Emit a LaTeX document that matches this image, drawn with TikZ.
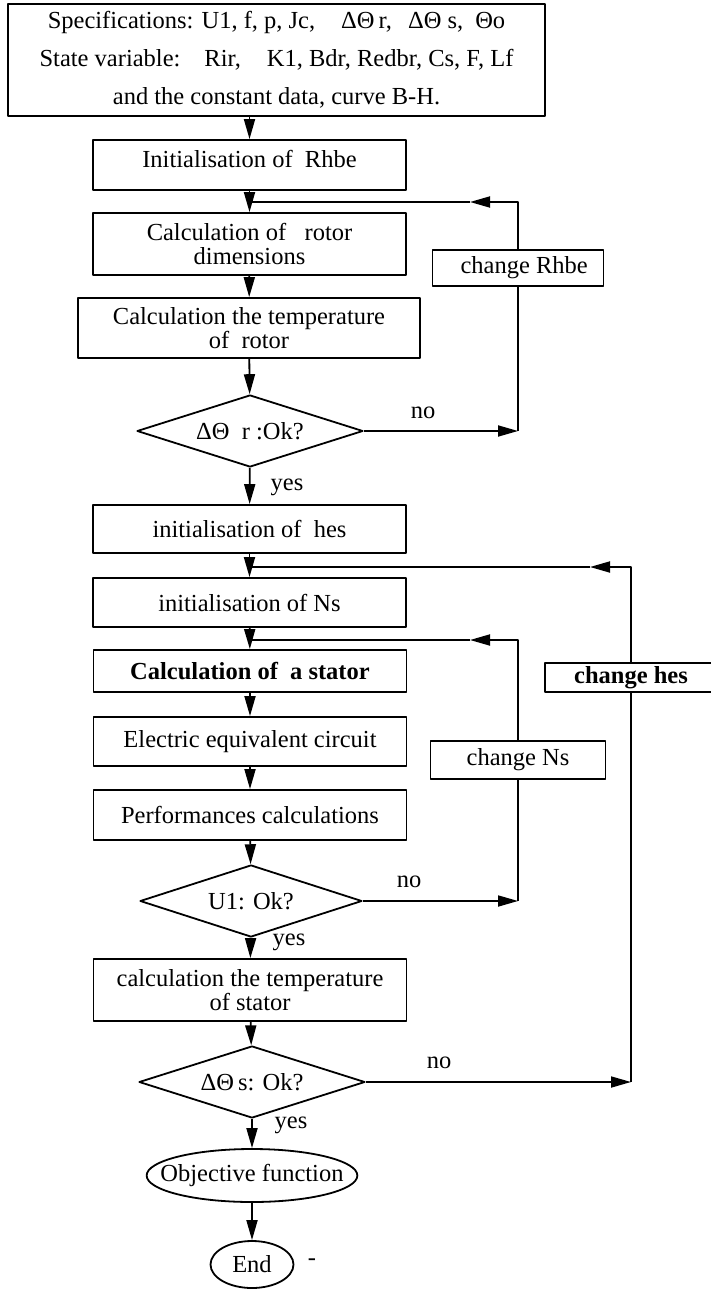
\documentclass[tikz,border=0pt]{standalone}
\usepackage{fontspec}
\setmainfont{Liberation Serif}
\usetikzlibrary{shapes.geometric,arrows.meta}
\begin{document}
\begin{tikzpicture}[x=1pt,y=-1pt,line width=1.8pt,line join=round,
  font=\fontsize{24.5}{24}\selectfont,
  box/.style={draw,rectangle,align=center,inner sep=2pt,minimum width=313pt},
  chg/.style={draw,rectangle,inner sep=2pt,minimum height=36pt},
  dec/.style={draw,diamond,aspect=3,inner sep=0pt,minimum width=226pt,minimum height=72pt},
  oval/.style={draw,ellipse,inner sep=0pt},
  arr/.style={-{Triangle[length=20pt,width=11pt]}}]
  \useasboundingbox (0,0) rectangle (710,1289);
  \node (spec) [draw,align=center,minimum width=537pt,minimum height=112pt,
    font=\fontsize{24.5}{38}\selectfont] at (276.5,60)
    {Specifications: U1, f, p, Jc,\hspace{26pt}ΔΘ\,r,\hspace{16pt}ΔΘ s,\hspace{12pt}Θo\\
     State variable:\hspace{24pt}Rir,\hspace{26pt}K1, Bdr, Redbr, Cs, F, Lf\\
     and the constant data, curve B-H.};
  \node (rhbe) [box,minimum height=50pt,text depth=12pt] at (249.5,165) {Initialisation of\ \ Rhbe};
  \node (rotor) [box,minimum height=62pt] at (249.5,244) {Calculation of\ \ \ rotor\\dimensions};
  \node (temprot) [box,minimum width=342pt,minimum height=60pt] at (249,328) {Calculation the temperature\\of\ \ rotor};
  \node (d1) [dec] at (250,431) {ΔΘ\ \ r :Ok?};
  \node (hes) [box,minimum height=48pt] at (249.5,529) {initialisation of\ \ hes};
  \node (ns) [box,minimum height=49pt] at (249.5,602.5) {initialisation of Ns};
  \node (stator) [box,minimum height=42pt] at (250,671) {\bfseries Calculation of\ \ a stator};
  \node (elec) [box,minimum height=49pt] at (250,741.5) {Electric equivalent circuit};
  \node (perf) [box,minimum height=50pt] at (250,815) {Performances calculations};
  \node (d2) [dec,minimum width=222pt] at (251,901) {U1: Ok?};
  \node (tempst) [box,minimum height=62pt] at (250,990) {calculation the temperature\\of stator};
  \node (d3) [dec] at (252,1082) {ΔΘ\,s: Ok?};
  \node (obj) [oval,inner xsep=-17pt,minimum width=206pt,minimum height=53pt] at (252,1175.5) {Objective function};
  \node (end) [oval,minimum width=83pt,minimum height=47pt] at (252,1264.5) {End};
  \node (dash) at (312,1262) {-};
  \node (chRhbe) [chg,minimum width=171pt] at (518,268) {\ \ change Rhbe};
  \node (chNs) [chg,minimum width=175pt,minimum height=38pt] at (518,760) {change Ns};
  \node (chHes) [chg,minimum width=172pt,minimum height=29pt] at (631,677.5) {\bfseries change hes};
  \node (no1) at (423,413) {no};
  \node (no2) at (409,882) {no};
  \node (no3) at (439,1063) {no};
  \node (yes1) at (287,487) {yes};
  \node (yes2) at (289,942) {yes};
  \node (yes3) at (291,1125) {yes};
  \coordinate (rm) at (470,202);
  \coordinate (nm) at (470,640);
  \coordinate (hm) at (590,567);
  \draw[arr] (rhbe.north |- spec.south) -- (rhbe);
  \draw[arr] (rhbe) -- (rotor);
  \draw[arr] (rotor) -- (temprot);
  \draw[arr] (temprot) -- (d1);
  \draw[arr] (d1) -- (hes);
  \draw[arr] (hes) -- (ns);
  \draw[arr] (ns) -- (stator);
  \draw[arr] (stator) -- (elec);
  \draw[arr] (elec) -- (perf);
  \draw[arr] (perf) -- (d2);
  \draw[arr] (d2) -- (tempst);
  \draw[arr] (tempst) -- (d3);
  \draw[arr] (d3) -- (obj);
  \draw[arr] (obj) -- (end);
  \draw[arr] (d1.east) -- (chRhbe.south |- d1.east);
  \draw (chRhbe.south |- d1.east) -- (chRhbe.south);
  \draw[arr] (chRhbe.north) |- (rm);
  \draw (rm) -- (rotor.north |- rm);
  \draw[arr] (d2.east) -- (chNs.south |- d2.east);
  \draw (chNs.south |- d2.east) -- (chNs.south);
  \draw[arr] (chNs.north) |- (nm);
  \draw (nm) -- (stator.north |- nm);
  \draw[arr] (d3.east) -- (chHes.south |- d3.east);
  \draw (chHes.south |- d3.east) -- (chHes.south);
  \draw[arr] (chHes.north) |- (hm);
  \draw (hm) -- (ns.north |- hm);
\end{tikzpicture}
\end{document}
